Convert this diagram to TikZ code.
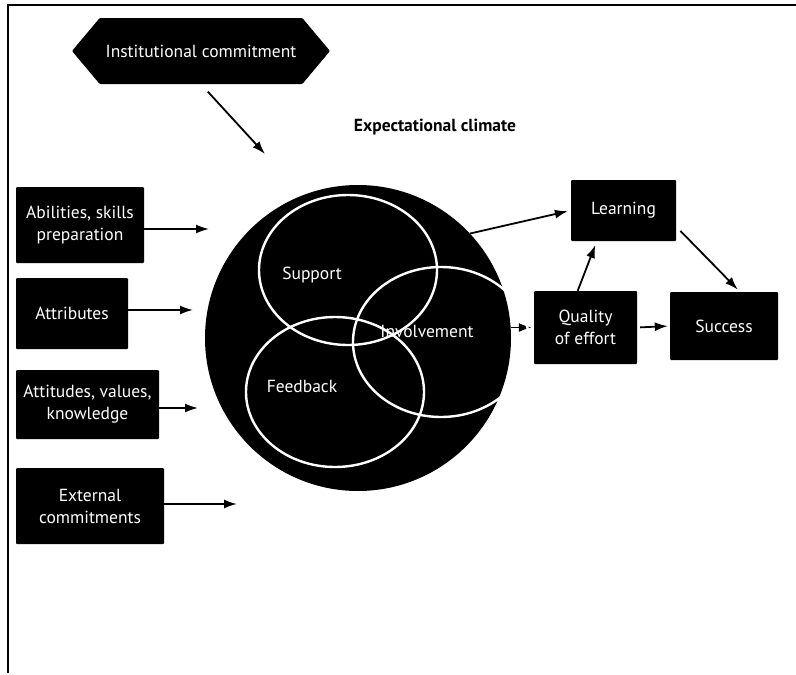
\documentclass[tikz,border=0pt]{standalone}
\usepackage{fontspec}
\setmainfont{PT Sans}
\usetikzlibrary{arrows.meta,shapes.symbols,shapes.geometric}

\begin{document}
\begin{tikzpicture}[x=1pt,y=-1pt,
  box/.style={fill=black,text=white,rounded corners=1pt,align=center,inner sep=0pt,
    font=\fontsize{17.5}{22}\selectfont},
  arr/.style={-{Latex[length=13pt,width=9pt]},line width=1.8pt},
  ring/.style={ellipse,draw=white,line width=2.4pt,inner sep=0pt},
  lbl/.style={text=white,font=\fontsize{17.5}{20}\selectfont}]
  \useasboundingbox (0,0) rectangle (796,675);
  \draw[line width=1.2pt] (8,673) -- (8,5) -- (796,5);
  % top
  \node[box,signal,signal to=west and east,signal pointer angle=100,
        minimum width=258,minimum height=66] (inst) at (201,51) {Institutional commitment};
  \node[font=\bfseries\fontsize{17.5}{20}\selectfont] (title) at (435,127) {Expectational climate};
  % climate
  \node[circle,fill=black,minimum size=306,inner sep=0pt] (clim) at (358,338) {};
  % inputs
  \node[box,minimum width=128,minimum height=76] (abil) at (80,225) {Abilities, skills\\preparation};
  \node[box,minimum width=112,minimum height=71] (attr) at (72,313.5) {Attributes};
  \node[box,minimum width=143,minimum height=69] (attit) at (87.5,404.5) {Attitudes, values,\\knowledge};
  \node[box,minimum width=148,minimum height=76] (extern) at (90,506) {External\\commitments};
  % outputs
  \node[box,minimum width=105,minimum height=61] (learn) at (623.5,210.5) {Learning};
  \node[box,minimum width=103,minimum height=73] (qual) at (585.5,327.5) {Quality\\of effort};
  \node[box,minimum width=108,minimum height=68] (succ) at (724,326) {Success};
  % free ends
  \coordinate (c0) at (265,154);
  \coordinate (c1) at (209,229);
  \coordinate (c2) at (193,310);
  \coordinate (c3) at (198,408);
  \coordinate (c4) at (237,504);
  \draw[arr,shorten <=10pt] (inst.south) -- (c0);
  \draw[arr] (abil.east |- c1) -- (c1);
  \draw[arr] (attr.east |- c2) -- (c2);
  \draw[arr] (attit.east |- c3) -- (c3);
  \draw[arr] (extern.east |- c4) -- (c4);
  \draw[arr,shorten >=3pt] (clim.43) -- (learn.west);
  \draw[arr,shorten >=2pt] (qual.west -| clim.east) -- (qual.west);
  \draw[arr,shorten >=4pt] (qual.102) -- (learn.229);
  \draw[arr,shorten <=6pt,shorten >=3pt] (learn.-17) -- (succ.65);
  \draw[arr,shorten <=3pt,shorten >=2pt] (qual.east) -- (succ.west);
  % circles inside
  \node[ring,minimum width=178,minimum height=150] (supp) at (348,270) {};
  \node[ring,minimum width=178,minimum height=150] (feed) at (335,392) {};
  \node[ring,minimum width=176,minimum height=150] (invol) at (441,342) {};
  \node[lbl] at (312,275) {Support};
  \node[lbl] at (427,331) {Involvement};
  \node[lbl] at (302,386) {Feedback};
\end{tikzpicture}
\end{document}
